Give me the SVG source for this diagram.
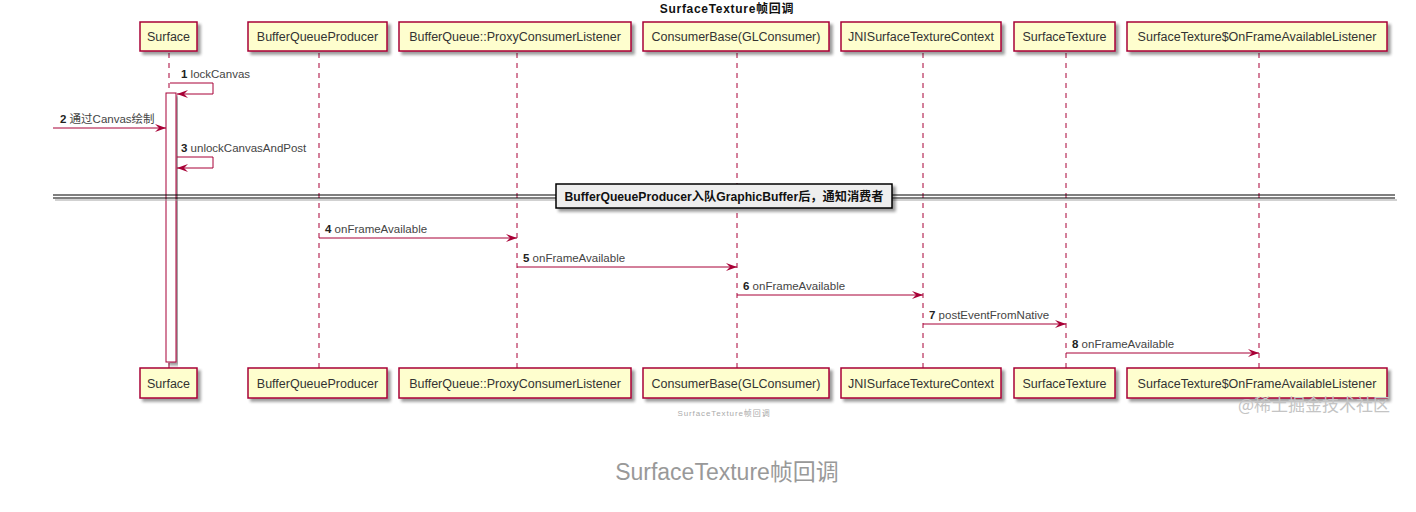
<svg xmlns="http://www.w3.org/2000/svg" width="1416" height="512" viewBox="0 0 1416 512">
<style>
.box{fill:#FEFECE;stroke:#A80036;stroke-width:1.5}
.pt{font-family:"Liberation Sans",Arial,sans-serif;font-size:12.5px;fill:#333}
.life{stroke:#A80036;stroke-width:1;stroke-dasharray:5,5;fill:none}
.msg{stroke:#A80036;stroke-width:1;fill:none}
.lbl{font-family:"Liberation Sans","Noto Sans CJK SC",sans-serif;font-size:11.5px;fill:#444}
.num{font-weight:bold;fill:#222}
</style>
<defs>
<marker id="ah" markerWidth="12" markerHeight="10" refX="11" refY="4" orient="auto" markerUnits="userSpaceOnUse">
<path d="M0,0 L11,4 L0,8 L4,4 Z" fill="#A80036"/>
</marker>
<filter id="ds" x="-10%" y="-10%" width="130%" height="150%">
<feGaussianBlur in="SourceAlpha" stdDeviation="1.5"/>
<feOffset dx="3" dy="3"/>
<feComponentTransfer><feFuncA type="linear" slope="0.4"/></feComponentTransfer>
<feMerge><feMergeNode/><feMergeNode in="SourceGraphic"/></feMerge>
</filter>
</defs>
<rect width="1416" height="512" fill="#fff"/>
<text x="727" y="13" text-anchor="middle" font-family="Liberation Sans,'Noto Sans CJK SC',sans-serif" font-size="12" letter-spacing="0.7" font-weight="bold" fill="#111">SurfaceTexture帧回调</text>

<g id="lifelines">
<line class="life" x1="169" y1="53" x2="169" y2="368"/>
<line class="life" x1="319" y1="53" x2="319" y2="368"/>
<line class="life" x1="517" y1="53" x2="517" y2="368"/>
<line class="life" x1="737" y1="53" x2="737" y2="368"/>
<line class="life" x1="923" y1="53" x2="923" y2="368"/>
<line class="life" x1="1066" y1="53" x2="1066" y2="368"/>
<line class="life" x1="1259" y1="53" x2="1259" y2="368"/>
</g>

<g id="activation">
<rect x="166" y="93" width="10" height="269" fill="#fff" stroke="#A80036" stroke-width="1" filter="url(#ds)"/>
</g>

<g id="p-surface">
<rect class="box" x="140" y="22" width="57" height="29" filter="url(#ds)"/>
<text class="pt" x="168.5" y="41" text-anchor="middle">Surface</text>
<rect class="box" x="140" y="368" width="57" height="30" filter="url(#ds)"/>
<text class="pt" x="168.5" y="388" text-anchor="middle">Surface</text>
</g>
<g id="p-bqp">
<rect class="box" x="248" y="22" width="139" height="29" filter="url(#ds)"/>
<text class="pt" x="317.5" y="41" text-anchor="middle">BufferQueueProducer</text>
<rect class="box" x="248" y="368" width="139" height="30" filter="url(#ds)"/>
<text class="pt" x="317.5" y="388" text-anchor="middle">BufferQueueProducer</text>
</g>
<g id="p-pcl">
<rect class="box" x="399" y="22" width="232" height="29" filter="url(#ds)"/>
<text class="pt" x="515" y="41" text-anchor="middle">BufferQueue::ProxyConsumerListener</text>
<rect class="box" x="399" y="368" width="232" height="30" filter="url(#ds)"/>
<text class="pt" x="515" y="388" text-anchor="middle">BufferQueue::ProxyConsumerListener</text>
</g>
<g id="p-cb">
<rect class="box" x="643" y="22" width="186" height="29" filter="url(#ds)"/>
<text class="pt" x="736" y="41" text-anchor="middle">ConsumerBase(GLConsumer)</text>
<rect class="box" x="643" y="368" width="186" height="30" filter="url(#ds)"/>
<text class="pt" x="736" y="388" text-anchor="middle">ConsumerBase(GLConsumer)</text>
</g>
<g id="p-jni">
<rect class="box" x="841" y="22" width="160" height="29" filter="url(#ds)"/>
<text class="pt" x="921" y="41" text-anchor="middle">JNISurfaceTextureContext</text>
<rect class="box" x="841" y="368" width="160" height="30" filter="url(#ds)"/>
<text class="pt" x="921" y="388" text-anchor="middle">JNISurfaceTextureContext</text>
</g>
<g id="p-st">
<rect class="box" x="1014" y="22" width="101" height="29" filter="url(#ds)"/>
<text class="pt" x="1064.5" y="41" text-anchor="middle">SurfaceTexture</text>
<rect class="box" x="1014" y="368" width="101" height="30" filter="url(#ds)"/>
<text class="pt" x="1064.5" y="388" text-anchor="middle">SurfaceTexture</text>
</g>
<g id="p-listener">
<rect class="box" x="1127" y="22" width="260" height="29" filter="url(#ds)"/>
<text class="pt" x="1257" y="41" text-anchor="middle">SurfaceTexture$OnFrameAvailableListener</text>
<rect class="box" x="1127" y="368" width="260" height="30" filter="url(#ds)"/>
<text class="pt" x="1257" y="388" text-anchor="middle">SurfaceTexture$OnFrameAvailableListener</text>
</g>

<g id="divider">
<line x1="53" y1="195" x2="1395" y2="195" stroke="#000" stroke-width="1"/>
<line x1="53" y1="198" x2="1395" y2="198" stroke="#000" stroke-width="1"/>
<line x1="55" y1="200" x2="1397" y2="200" stroke="#999" stroke-width="1.5" opacity="0.6"/>
<rect x="556" y="184" width="336" height="24" fill="#EEEEEE" stroke="#000" stroke-width="1.5" filter="url(#ds)"/>
<text x="724" y="201" text-anchor="middle" font-family="Liberation Sans,'Noto Sans CJK SC',sans-serif" font-size="12.2" font-weight="bold" fill="#111">BufferQueueProducer入队GraphicBuffer后，通知消费者</text>
</g>

<g id="connectors">
<polyline class="msg" points="170,83 213,83 213,94 177,94" marker-end="url(#ah)"/>
<line class="msg" x1="53" y1="128" x2="166" y2="128" marker-end="url(#ah)"/>
<polyline class="msg" points="177,157 213,157 213,168 177,168" marker-end="url(#ah)"/>
<line class="msg" x1="319" y1="238" x2="517" y2="238" marker-end="url(#ah)"/>
<line class="msg" x1="517" y1="267" x2="737" y2="267" marker-end="url(#ah)"/>
<line class="msg" x1="737" y1="295" x2="923" y2="295" marker-end="url(#ah)"/>
<line class="msg" x1="923" y1="324" x2="1066" y2="324" marker-end="url(#ah)"/>
<line class="msg" x1="1066" y1="353" x2="1259" y2="353" marker-end="url(#ah)"/>
</g>

<g id="labels">
<text class="lbl" x="181" y="78"><tspan class="num">1</tspan> lockCanvas</text>
<text class="lbl" x="60" y="123"><tspan class="num">2</tspan> 通过Canvas绘制</text>
<text class="lbl" x="181" y="152"><tspan class="num">3</tspan> unlockCanvasAndPost</text>
<text class="lbl" x="325" y="233"><tspan class="num">4</tspan> onFrameAvailable</text>
<text class="lbl" x="523" y="262"><tspan class="num">5</tspan> onFrameAvailable</text>
<text class="lbl" x="743" y="290"><tspan class="num">6</tspan> onFrameAvailable</text>
<text class="lbl" x="929" y="319"><tspan class="num">7</tspan> postEventFromNative</text>
<text class="lbl" x="1072" y="348"><tspan class="num">8</tspan> onFrameAvailable</text>
</g>

<text x="724" y="416" text-anchor="middle" font-family="Liberation Sans,'Noto Sans CJK SC',sans-serif" font-size="8" letter-spacing="0.9" fill="#aaa">SurfaceTexture帧回调</text>
<text x="1390" y="411" text-anchor="end" font-family="'Noto Sans CJK SC',sans-serif" font-size="17" fill="#c4c4c4">@稀土掘金技术社区</text>
<text x="727" y="480" text-anchor="middle" font-family="Liberation Sans,'Noto Sans CJK SC',sans-serif" font-size="23" fill="#999">SurfaceTexture帧回调</text>
</svg>
